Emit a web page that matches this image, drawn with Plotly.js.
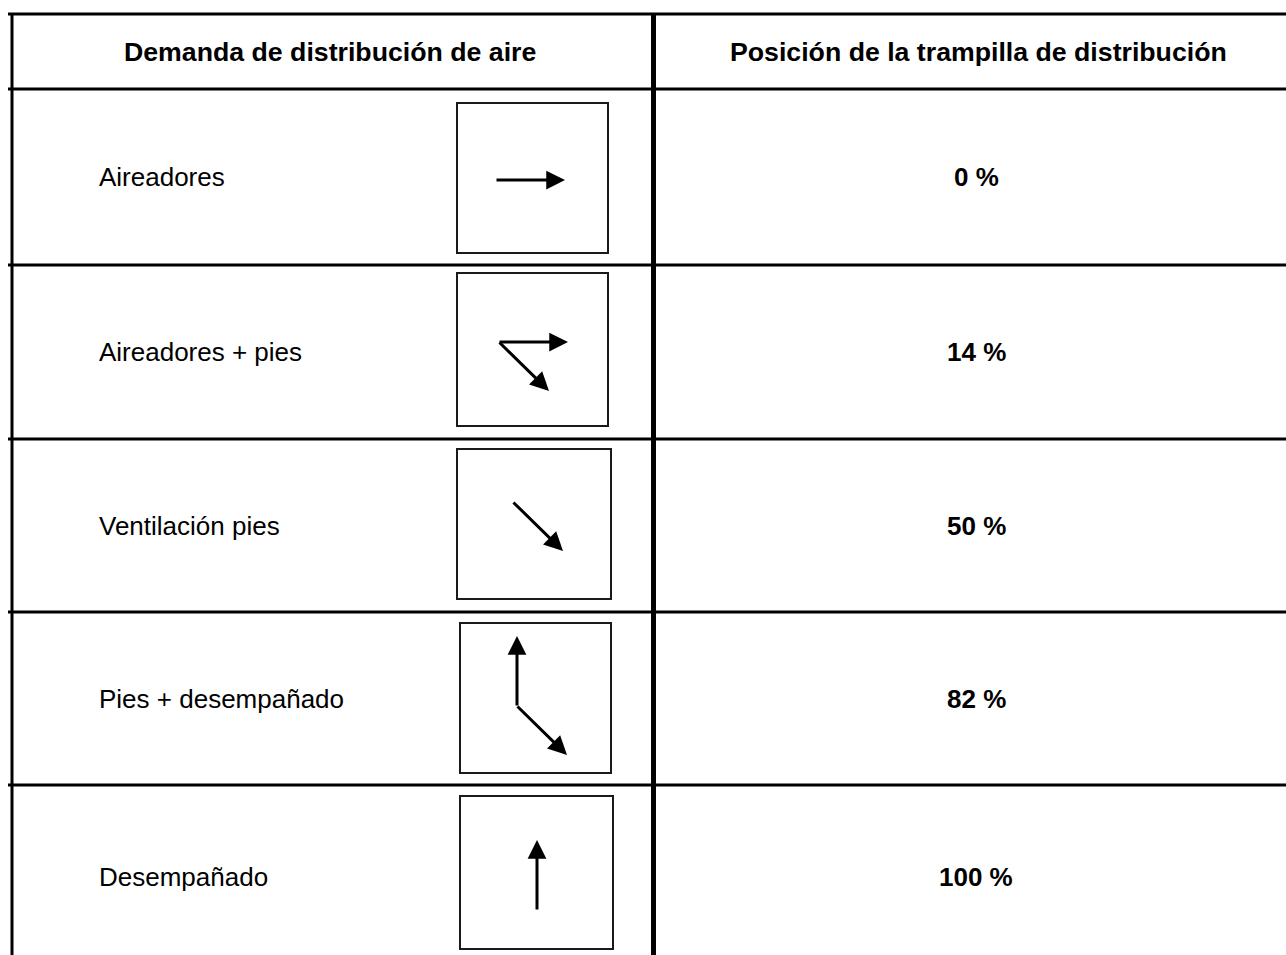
<!DOCTYPE html>
<html>
<head>
<meta charset="utf-8">
<script src="https://cdn.plot.ly/plotly-3.0.1.min.js"></script>
<style>
  html, body { margin: 0; padding: 0; background: #ffffff; }
  #chart { width: 1286px; height: 955px; }
</style>
</head>
<body>
<div id="chart"></div>
<script>
// ---------- DATA ----------
const encabezados = ["Demanda de distribución de aire", "Posición de la trampilla de distribución"];
const demandas = ["Aireadores", "Aireadores + pies", "Ventilación pies", "Pies + desempañado", "Desempañado"];
const posiciones = [0, 14, 50, 82, 100];            // % posición de la trampilla
const salidas = [["aireadores"], ["aireadores", "pies"], ["pies"], ["desempañado", "pies"], ["desempañado"]];

// ---------- GEOMETRY / STYLE (layout only) ----------
const W = 1286, H = 955;
const tableTop = 14, tableLeft = 12, lineStart = 8, colSplit = 653.5;
const rowTops = [89, 265, 439, 612, 785];
const lastRowBottom = 969;
const labelX = 97, valueX = 976;
const headerX = [329.5, 978.5];
const iconBoxes = [[457, 103, 608, 253], [457, 273, 608, 426], [457, 449, 611, 599], [460, 623, 611, 773], [460, 796, 613, 949]];
const iconOrigins = [[39, 77], [42, 69], [56, 53], [57, 83], [77, 114]];
const dirVectors = { "aireadores": [69, 0], "pies": [50, 49], "desempañado": [0, -70] };
const FONT = "Liberation Sans, Arial, Helvetica, sans-serif";
const FS = 26, FSB = 26.7;

const shapes = [];
const annotations = [];

// grid lines
[tableTop].concat(rowTops).forEach(y => {
  shapes.push({ type: "line", xref: "x", yref: "y", x0: lineStart, x1: W, y0: y, y1: y, line: { color: "#000", width: 3 } });
});
shapes.push({ type: "line", xref: "x", yref: "y", x0: tableLeft, x1: tableLeft, y0: tableTop, y1: H, line: { color: "#000", width: 3 } });
shapes.push({ type: "line", xref: "x", yref: "y", x0: colSplit, x1: colSplit, y0: tableTop, y1: H, line: { color: "#000", width: 5 } });

// headers
encabezados.forEach((t, i) => {
  annotations.push({ x: headerX[i], y: (tableTop + rowTops[0]) / 2, xref: "x", yref: "y", text: "<b>" + t + "</b>",
    showarrow: false, xanchor: "center", yanchor: "middle", font: { family: FONT, size: FSB, color: "#000" } });
});

// rows
demandas.forEach((d, i) => {
  const top = rowTops[i];
  const bottom = i + 1 < rowTops.length ? rowTops[i + 1] : lastRowBottom;
  const yc = (top + bottom) / 2;
  annotations.push({ x: labelX, y: yc, xref: "x", yref: "y", text: d, showarrow: false,
    xanchor: "left", yanchor: "middle", font: { family: FONT, size: FS, color: "#000" } });
  annotations.push({ x: valueX, y: yc, xref: "x", yref: "y", text: "<b>" + posiciones[i] + " %</b>", showarrow: false,
    xanchor: "center", yanchor: "middle", font: { family: FONT, size: FSB - 0.7, color: "#000" } });
  const b = iconBoxes[i];
  shapes.push({ type: "rect", xref: "x", yref: "y", x0: b[0], y0: b[1], x1: b[2], y1: b[3],
    line: { color: "#1a1a1a", width: 2 }, fillcolor: "rgba(0,0,0,0)" });
  const ox = b[0] + iconOrigins[i][0], oy = b[1] + iconOrigins[i][1];
  salidas[i].forEach(s => {
    const v = dirVectors[s];
    annotations.push({ x: ox + v[0], y: oy + v[1], ax: ox, ay: oy, xref: "x", yref: "y", axref: "x", ayref: "y",
      text: "", showarrow: true, arrowhead: 2, arrowsize: 1.25, arrowwidth: 3, arrowcolor: "#000",
      standoff: 0, startstandoff: 0, borderpad: 0 });
  });
});

const layout = {
  width: W, height: H, autosize: false,
  margin: { l: 0, r: 0, t: 0, b: 0, pad: 0 },
  paper_bgcolor: "#ffffff", plot_bgcolor: "#ffffff",
  showlegend: false,
  xaxis: { range: [0, W], visible: false, fixedrange: true },
  yaxis: { range: [H, 0], visible: false, fixedrange: true },
  shapes: shapes,
  annotations: annotations
};

Plotly.newPlot("chart", [{ x: [], y: [], type: "scatter", mode: "markers", hoverinfo: "skip" }], layout,
  { displayModeBar: false, staticPlot: true });
</script>
</body>
</html>
